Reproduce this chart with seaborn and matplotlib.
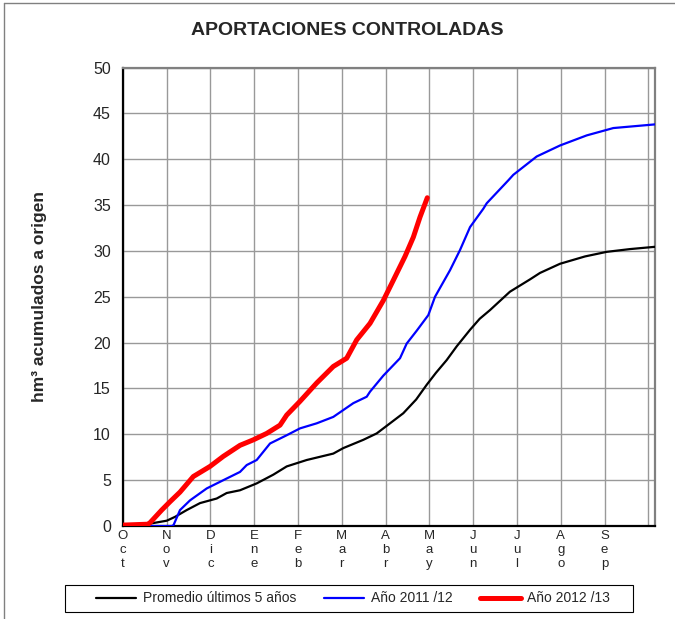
import matplotlib
matplotlib.use("Agg")
import matplotlib.pyplot as plt
from matplotlib.lines import Line2D
from matplotlib.patches import Rectangle
from matplotlib.ticker import MultipleLocator
import pandas as pd
import seaborn as sns

# Hydrological-year months (Oct -> Sep), x measured in months from 1 Oct
months = ["Oct", "Nov", "Dic", "Ene", "Feb", "Mar", "Abr", "May", "Jun", "Jul", "Ago", "Sep"]

# Average of the last 5 years
avg_x = [0.0, 0.35, 0.548, 1.005, 1.194, 1.461, 1.765, 2.146, 2.374, 2.678, 3.059, 3.438,
         3.744, 4.201, 4.808, 5.037, 5.493, 5.799, 6.103, 6.406, 6.70, 6.94, 7.15, 7.397,
         7.626, 7.93, 8.15, 8.386, 8.84, 9.30, 9.527, 9.984, 10.555, 11.05, 11.58, 12.153]
avg_y = [0.0, 0.08, 0.2, 0.58, 1.0, 1.74, 2.5, 3.0, 3.6, 3.9, 4.65, 5.6,
         6.5, 7.2, 7.9, 8.5, 9.4, 10.1, 11.2, 12.3, 13.8, 15.4, 16.7, 18.1,
         19.6, 21.4, 22.6, 23.55, 25.55, 26.9, 27.6, 28.6, 29.4, 29.9, 30.2, 30.45]

# Hydrological year 2011/12
y1112_x = [0.0, 1.12, 1.16, 1.308, 1.537, 1.918, 2.297, 2.678, 2.831, 3.059, 3.363, 3.744,
           4.048, 4.429, 4.808, 5.037, 5.265, 5.571, 5.646, 5.95, 6.331, 6.484, 6.712,
           6.977, 7.13, 7.473, 7.701, 7.93, 8.233, 8.311, 8.804, 8.918, 9.452, 9.984,
           10.594, 11.201, 12.153]
y1112_y = [0.0, 0.0, 0.1, 1.74, 2.8, 4.1, 5.0, 5.9, 6.65, 7.2, 9.0, 9.9,
           10.65, 11.2, 11.9, 12.65, 13.4, 14.1, 14.65, 16.4, 18.3, 19.9, 21.3,
           23.0, 25.0, 27.9, 30.1, 32.6, 34.6, 35.2, 37.7, 38.3, 40.3, 41.5,
           42.6, 43.4, 43.8]

# Hydrological year 2012/13 (to date)
y1213_x = [0.0, 0.584, 0.623, 0.890, 1.080, 1.308, 1.612, 1.993, 2.297, 2.678, 2.982, 3.288,
           3.591, 3.744, 4.048, 4.429, 4.808, 5.114, 5.342, 5.646, 5.95, 6.178, 6.445,
           6.635, 6.788, 6.954]
y1213_y = [0.1, 0.2, 0.36, 1.74, 2.65, 3.7, 5.4, 6.5, 7.6, 8.8, 9.4, 10.1,
           11.0, 12.1, 13.6, 15.6, 17.4, 18.3, 20.3, 22.1, 24.6, 26.8, 29.4,
           31.5, 33.7, 35.8]

series_names = ["Promedio últimos 5 años", "Año 2011 /12", "Año 2012 /13"]
series_colors = ["#000000", "#0000FF", "#FF0000"]
series_widths = [1.6, 1.6, 3.6]

sns.set_style("white")
plt.rcParams["font.family"] = ["Liberation Sans", "DejaVu Sans"]

fig = plt.figure(figsize=(6.75, 6.19), dpi=100)
ax = fig.add_axes([0.1818, 0.1502, 0.7886, 0.7407])

frames = [
    pd.DataFrame({"mes": avg_x, "hm3": avg_y}),
    pd.DataFrame({"mes": y1112_x, "hm3": y1112_y}),
    pd.DataFrame({"mes": y1213_x, "hm3": y1213_y}),
]
for df, name, col, lw in zip(frames, series_names, series_colors, series_widths):
    sns.lineplot(data=df, x="mes", y="hm3", ax=ax, color=col, linewidth=lw,
                 label=name, legend=False, zorder=3, estimator=None, sort=False)

ax.set_xlim(0, 12.153)
ax.set_ylim(0, 50)

# Month ticks with stacked letters
ax.set_xticks(range(13))
ax.set_xticklabels(["\n".join(m) for m in months] + [""], fontsize=9.5, linespacing=1.2,
                   va="top")
ax.xaxis.set_minor_locator(MultipleLocator(0.5))
ax.yaxis.set_major_locator(MultipleLocator(5))
ax.yaxis.set_minor_locator(MultipleLocator(1))

ax.tick_params(axis="x", which="major", direction="inout", length=6, width=1,
               color="black", pad=0)
ax.tick_params(axis="x", which="minor", direction="in", length=4, width=1, color="black")
ax.tick_params(axis="y", which="major", direction="inout", length=9, width=1,
               color="black", labelsize=11.5, pad=4)
ax.tick_params(axis="y", which="minor", direction="in", length=4, width=1, color="black")

ax.grid(True, which="major", color="#999999", linewidth=1.0, zorder=0)
ax.set_axisbelow(True)

for side in ("left", "bottom"):
    ax.spines[side].set_color("black")
    ax.spines[side].set_linewidth(1.6)
for side in ("top", "right"):
    ax.spines[side].set_color("#808080")
    ax.spines[side].set_linewidth(1.6)
    ax.spines[side].set_visible(True)

ax.set_xlabel("")
ax.set_ylabel("hm³ acumulados a origen", fontsize=12.5, fontweight="bold")
ax.yaxis.set_label_coords(-0.142, 0.5)

fig.text(0.514, 0.9515, "APORTACIONES CONTROLADAS", ha="center", va="center",
         fontsize=14, fontweight="bold")

# Legend box drawn separately so the entries keep their inner margins
fig.add_artist(Rectangle((65 / 675, 1 - 612 / 619), 568 / 675, 27 / 619,
                         transform=fig.transFigure, facecolor="white",
                         edgecolor="black", linewidth=0.8))
handles = [Line2D([], [], color=c, linewidth=w) for c, w in zip(series_colors, series_widths)]
leg = fig.legend(handles, series_names, loc="center", ncol=3, mode="expand",
                 bbox_to_anchor=(92 / 675, 1 - 612 / 619, 522 / 675, 27 / 619),
                 fontsize=10, frameon=False,
                 handlelength=2.9, handletextpad=0.45, borderaxespad=0.0,
                 borderpad=0.3, columnspacing=1.6)

# Outer border lines of the figure (top and left)
fig.add_artist(Line2D([4 / 675, 1], [1 - 3 / 619, 1 - 3 / 619], color="#808080",
                      linewidth=1.0, transform=fig.transFigure))
fig.add_artist(Line2D([4 / 675, 4 / 675], [0, 1 - 3 / 619], color="#808080",
                      linewidth=1.0, transform=fig.transFigure))

fig.savefig("out.png", dpi=100)
